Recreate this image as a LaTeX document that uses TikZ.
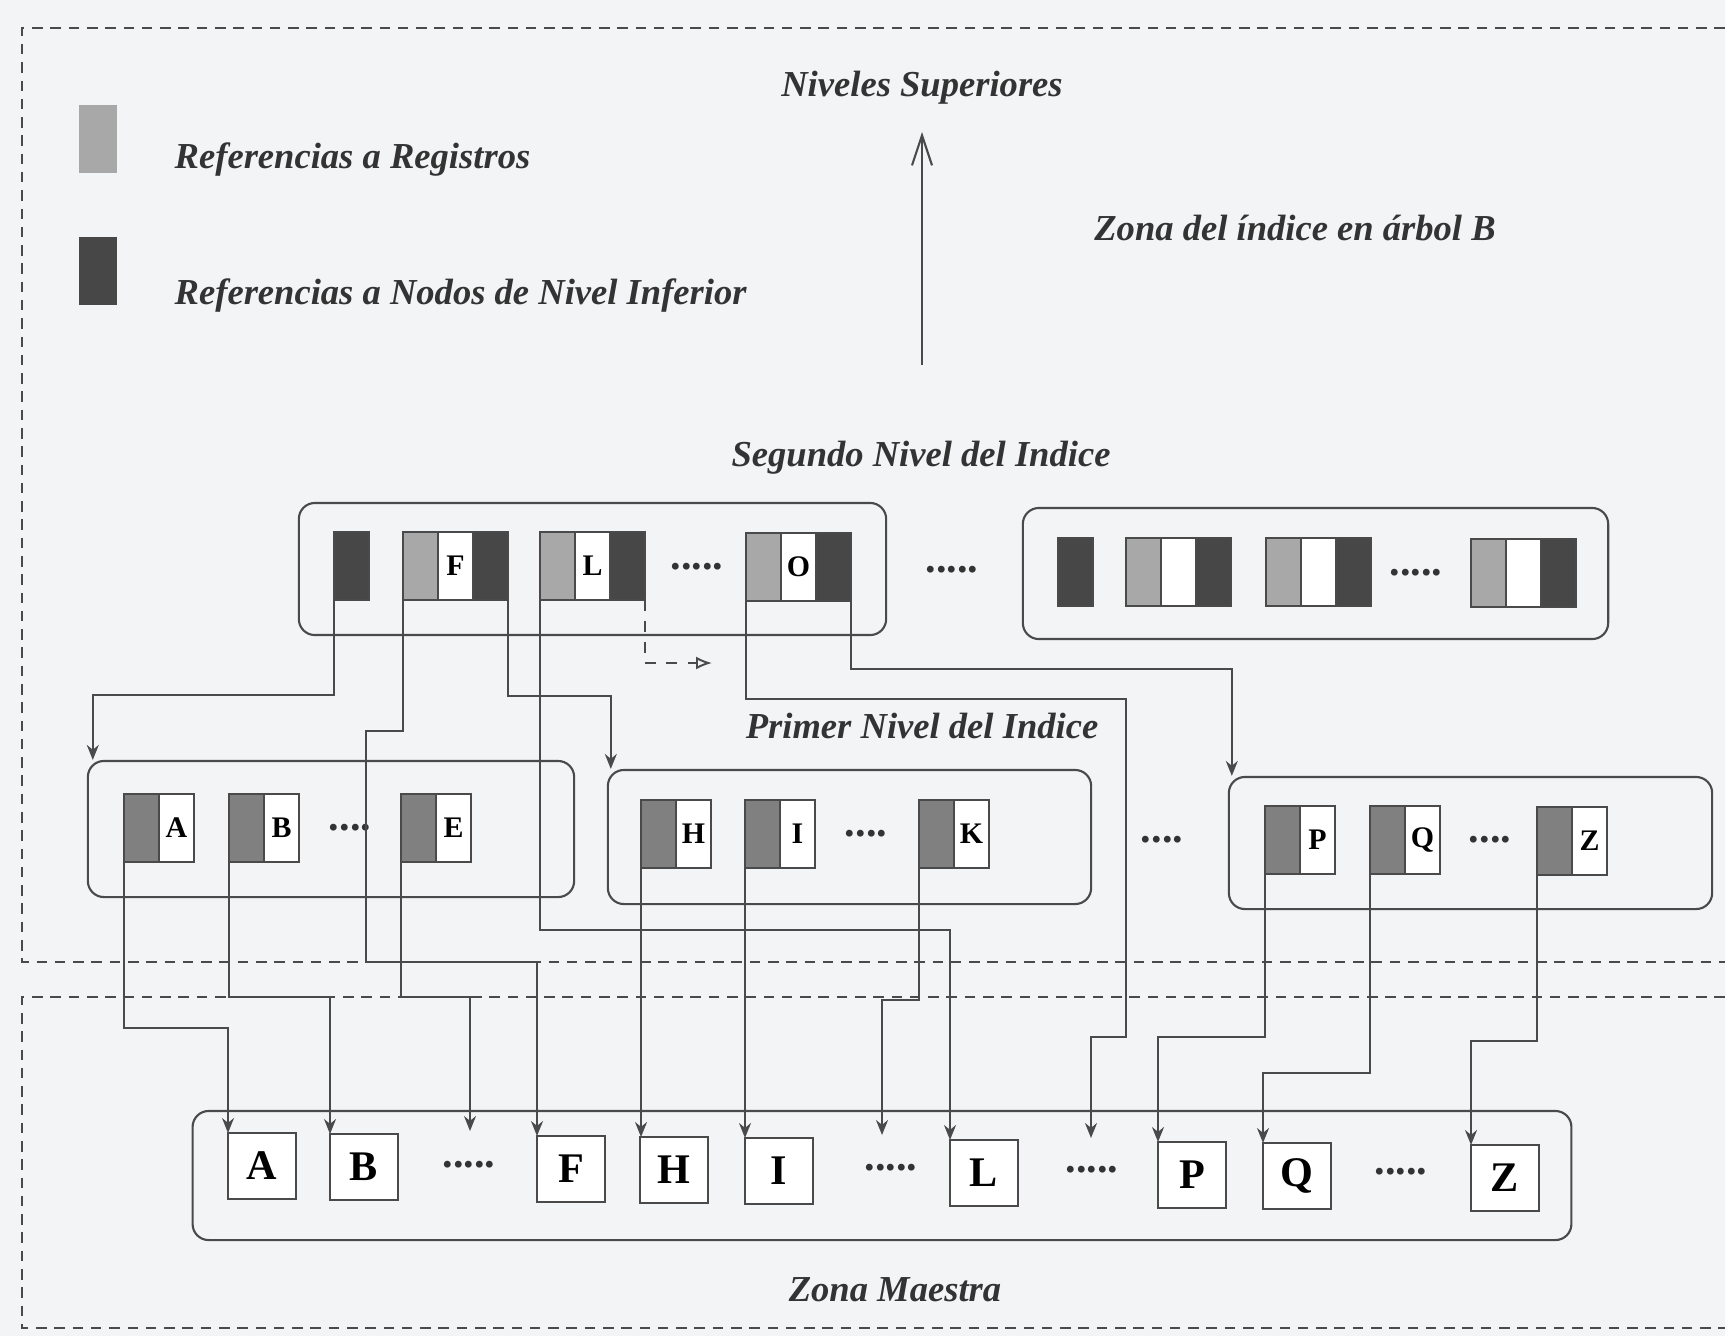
\documentclass[tikz,border=0pt]{standalone}
\usepackage{fontspec}
\setmainfont{Liberation Serif}
\usetikzlibrary{arrows.meta,calc}
\definecolor{bgc}{HTML}{F3F4F6}
\definecolor{lnc}{HTML}{4A4A4A}
\definecolor{lgray}{HTML}{A8A8A8}
\definecolor{dgray}{HTML}{474747}
\definecolor{mgray}{HTML}{808080}
\newcommand{\skentry}[4]{%
  \node[lpc, anchor=west] (#1l) at (#2,#3) {};
  \node[kcc, anchor=west] (#1w) at (#1l.east) {#4};
  \node[dpc, anchor=west] (#1d) at (#1w.east) {};}
\newcommand{\fkentry}[4]{%
  \node[mpc, anchor=west] (#1p) at (#2,#3) {};
  \node[kcc, anchor=west] (#1w) at (#1p.east) {#4};}
\tikzset{
  cell/.style={draw=lnc, line width=0.5pt, minimum width=0.35cm, minimum height=0.68cm, inner sep=0pt, outer sep=0pt},
  lpc/.style={cell, fill=lgray},
  dpc/.style={cell, fill=dgray},
  mpc/.style={cell, fill=mgray},
  kcc/.style={cell, fill=white, font=\bfseries\fontsize{8.5}{9}\selectfont},
  grp/.style={draw=lnc, line width=0.6pt, rounded corners=0.16cm, inner sep=0pt},
  rec/.style={draw=lnc, line width=0.7pt, fill=white, minimum width=0.68cm, minimum height=0.66cm, inner sep=0pt, outer sep=0pt, font=\bfseries\fontsize{12}{13}\selectfont},
  lbl/.style={font=\bfseries\itshape\fontsize{10.4}{12}\selectfont, text=black!80, inner sep=0pt},
  dts/.style={font=\bfseries\fontsize{12}{12}\selectfont, inner sep=0pt, text=black!80},
  conn/.style={draw=lnc, line width=0.55pt, -{Stealth[length=1.5mm,width=1.2mm]}},
  zonebox/.style={draw=lnc, line width=0.75pt, dash pattern=on 3pt off 2.2pt},
}
\begin{document}
\begin{tikzpicture}[x=0.01cm, y=-0.01cm]
\fill[bgc] (0,0) rectangle (1725,1336);
\useasboundingbox (0,0) rectangle (1725,1336);

% zones
\draw[zonebox] (1725,28) -- (22,28) -- (22,962) -- (1725,962);
\draw[zonebox] (1725,997) -- (22,997) -- (22,1328) -- (1725,1328);

% legend
\node[lpc, draw=none, minimum width=0.38cm] (legL) at (98,139) {};
\node[dpc, draw=none, minimum width=0.38cm] (legD) at (98,271) {};
\node[lbl, anchor=west] (tReg) at (174,160) {Referencias a Registros};
\node[lbl, anchor=west] (tNod) at (174,296) {Referencias a Nodos de Nivel Inferior};

% titles
\node[lbl] (tSup) at (922,88) {Niveles Superiores};
\node[lbl] (tZona) at (1295,228) {Zona del índice en árbol B};
\node[lbl] (tSeg) at (921,458) {Segundo Nivel del Indice};
\node[lbl] (tPri) at (922,726) {Primer Nivel del Indice};
\node[lbl] (tMae) at (895,1290) {Zona Maestra};

\coordinate (upB) at (922,365);
\coordinate (upT) at (922,132);
\draw[draw=lnc, line width=0.6pt, -{Straight Barb[length=3mm,width=2mm]}] (upB) -- (upT);

% second level
\node[grp, minimum width=5.87cm, minimum height=1.32cm] (S1) at (592.5,569) {};
\node[grp, minimum width=5.85cm, minimum height=1.31cm] (S2) at (1315.5,573.5) {};
\node[dpc, anchor=west] (s0) at (334,566) {};
\skentry{F}{403}{566}{F}
\skentry{L}{540}{566}{L}
\node[dts] (sdA) at (697,567) {.....};
\skentry{O}{746}{567}{O}
\node[dts] (sdB) at (952,570) {.....};
\node[dpc, anchor=west] (t0) at (1058,572) {};
\skentry{Ra}{1126}{572}{}
\skentry{Rb}{1266}{572}{}
\node[dts] (sdC) at (1416,573) {.....};
\skentry{Rc}{1471}{573}{}

% first level
\node[grp, minimum width=4.86cm, minimum height=1.36cm] (N1) at (331,829) {};
\node[grp, minimum width=4.83cm, minimum height=1.34cm] (N2) at (849.5,837) {};
\node[grp, minimum width=4.83cm, minimum height=1.32cm] (N3) at (1470.5,843) {};
\fkentry{A}{124}{828}{A}
\fkentry{B}{229}{828}{B}
\node[dts] (fdA) at (350,828) {....};
\fkentry{E}{401}{828}{E}
\fkentry{H}{641}{834}{H}
\fkentry{I}{745}{834}{I}
\node[dts] (fdB) at (866,834) {....};
\fkentry{K}{919}{834}{K}
\node[dts] (fdC) at (1162,840) {....};
\fkentry{P}{1265}{840}{P}
\fkentry{Q}{1370}{840}{Q}
\node[dts] (fdD) at (1490,840) {....};
\fkentry{Z}{1537}{841}{Z}

% master zone
\node[grp, minimum width=13.78cm, minimum height=1.29cm] (M) at (882,1175.5) {};
\node[rec, anchor=north west] (mA) at (228,1133) {A};
\node[rec, anchor=north west] (mB) at (330,1134) {B};
\node[dts] (mdA) at (469,1165) {.....};
\node[rec, anchor=north west] (mF) at (537,1136) {F};
\node[rec, anchor=north west] (mH) at (640,1137) {H};
\node[rec, anchor=north west] (mI) at (745,1138) {I};
\node[dts] (mdB) at (891,1168) {.....};
\node[rec, anchor=north west] (mL) at (950,1140) {L};
\node[dts] (mdC) at (1092,1170) {.....};
\node[rec, anchor=north west] (mP) at (1158,1142) {P};
\node[rec, anchor=north west] (mQ) at (1263,1143) {Q};
\node[dts] (mdD) at (1401,1172) {.....};
\node[rec, anchor=north west] (mZ) at (1471,1145) {Z};

\coordinate (Lnext) at (712,663);
\coordinate (Oarr) at (1091,1138);
\coordinate (Earr) at (470,1131);
\coordinate (Karr) at (882,1135);

% second level -> first level
\draw[conn] (s0.south west) -- ++(0,95) -| ($(N1.north west)+(6,0)$);
\draw[conn] (Fd.south east) -- ++(0,96) -| ($(N2.north west)+(4,0)$);
\draw[draw=lnc, line width=0.55pt, dashed, -{Latex[open,length=1.6mm,width=1.3mm]}] (Ld.south east) |- (Lnext);
\draw[conn] (Od.south east) -- ++(0,68) -| ($(N3.north west)+(4,0)$);

% second level -> master
\draw[conn] (Fl.south west) -- ++(0,131) -| (366,962) -| (mF.north west);
\draw[conn] (Ll.south west) -- ++(0,330) -| (mL.north west);
\draw[conn] (Ol.south west) -- ++(0,98) -| (1126,1037) -| (Oarr);

% first level -> master
\draw[conn] (Ap.south west) -- ++(0,166) -| (mA.north west);
\draw[conn] (Bp.south west) -- ++(0,135) -| (mB.north west);
\draw[conn] (Ep.south west) -- ++(0,135) -| (Earr);
\draw[conn] (Hp.south west) -- (Hp.south west |- mH.north);
\draw[conn] (Ip.south west) -- (Ip.south west |- mI.north);
\draw[conn] (Kp.south west) -- ++(0,132) -| (Karr);
\draw[conn] (Pp.south west) -- ++(0,163) -| (mP.north west);
\draw[conn] (Qp.south west) -- ++(0,199) -| (mQ.north west);
\draw[conn] (Zp.south west) -- ++(0,166) -| (mZ.north west);
\end{tikzpicture}
\end{document}
